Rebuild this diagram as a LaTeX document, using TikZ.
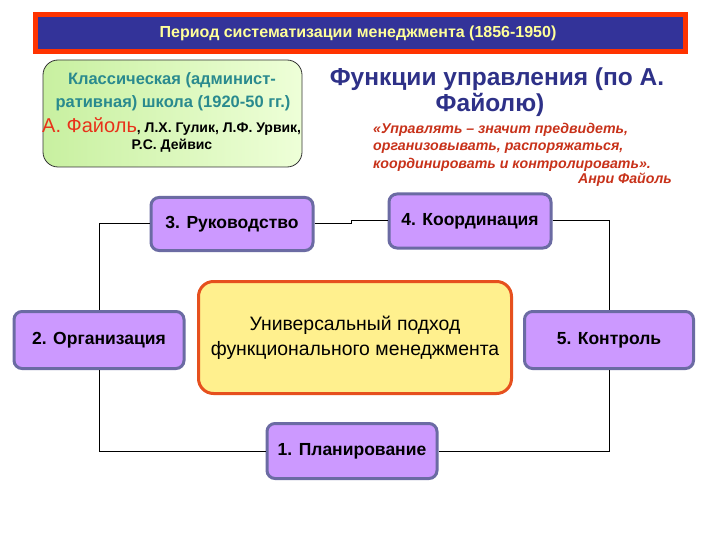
\documentclass[tikz,border=0pt]{standalone}
\usepackage{fontspec}
\setmainfont{Liberation Sans}
\definecolor{nodefill}{HTML}{CC99FF}
\definecolor{nodeborder}{HTML}{6B6BA3}
\definecolor{cfill}{HTML}{FFF08E}
\definecolor{cborder}{HTML}{E6501E}
\definecolor{titlered}{HTML}{FF3300}
\definecolor{titleblue}{HTML}{333399}
\definecolor{titletext}{HTML}{FFFF99}
\definecolor{headblue}{HTML}{2E3188}
\definecolor{teal}{HTML}{2A8A8E}
\definecolor{quotered}{HTML}{C8321A}
\definecolor{fayolred}{HTML}{E8321A}
\definecolor{greenA}{HTML}{C8F0A0}
\definecolor{greenB}{HTML}{EEFFD8}
\tikzset{
  fnbox/.style={draw=nodeborder, line width=3pt, fill=nodefill, rounded corners=8pt,
    font=\bfseries\fontsize{17.5}{20}\selectfont, text=black, inner sep=0pt},
  conn/.style={draw=black, line width=1pt},
  quote/.style={font=\bfseries\itshape\fontsize{14.2}{16}\selectfont, text=quotered, inner sep=0pt},
  school/.style={font=\bfseries\fontsize{16.5}{18}\selectfont, text=teal},
  head/.style={font=\bfseries\fontsize{24.5}{28}\selectfont, text=headblue},
}
\begin{document}
\begin{tikzpicture}[x=1pt,y=-1pt]
\useasboundingbox (0,0) rectangle (720,540);
\fill[white] (0,0) rectangle (720,540);
% title
\fill[titlered] (33,12) rectangle (688,54);
\fill[titleblue] (38,17) rectangle (683,49);
\node[font=\bfseries\fontsize{16}{18}\selectfont, text=titletext] (title) at (358,33) {Период систематизации менеджмента (1856-1950)};
% green box
\node[draw=black!80, line width=0.8pt, rounded corners=15pt, left color=greenA, right color=greenB,
  minimum width=259pt, minimum height=107pt] (school) at (172.5,113.5) {};
\node[school] (s1) at (172,80) {Классическая (админист-};
\node[school] (s2) at (173,103) {ративная) школа (1920-50 гг.)};
\node[inner sep=0pt, anchor=west] (s3) at (42,127) {{\fontsize{20}{22}\selectfont\color{fayolred}А. Файоль}{\bfseries\fontsize{14}{16}\selectfont, Л.Х. Гулик, Л.Ф. Урвик,}};
\node[font=\bfseries\fontsize{14}{16}\selectfont] (s4) at (172,146) {Р.С. Дейвис};
% heading
\node[head] (h1) at (497,79) {Функции управления (по А.};
\node[head] (h2) at (490,105) {Файолю)};
\node[quote, anchor=west] (q1) at (373,130) {«Управлять – значит предвидеть,};
\node[quote, anchor=west] (q2) at (373,148) {организовывать, распоряжаться,};
\node[quote, anchor=west] (q3) at (373,165) {координировать и контролировать».};
\node[quote, anchor=east] (q4) at (672,180) {Анри Файоль};
% function nodes
\node[fnbox, minimum width=162pt, minimum height=53pt] (n3) at (232,224) {3. Руководство};
\node[fnbox, minimum width=162pt, minimum height=54pt] (n4) at (470,221) {4. Координация};
\node[fnbox, minimum width=170pt, minimum height=57pt] (n2) at (99,340) {2. Организация};
\node[fnbox, minimum width=169pt, minimum height=57pt] (n5) at (609,340) {5. Контроль};
\node[fnbox, minimum width=170pt, minimum height=55pt] (n1) at (352,451) {1. Планирование};
% center
\node[draw=cborder, line width=3pt, fill=cfill, rounded corners=15pt,
  minimum width=313pt, minimum height=112pt, align=center,
  font=\fontsize{19.4}{25}\selectfont] (center) at (355,337.5) {Универсальный подход\\функционального менеджмента};
% connectors
\draw[conn] (n1.west) -| (n2.south);
\draw[conn] (n2.north) |- (n3.west);
\draw[conn] (n3.east) -- ++(37,0) |- (n4.west);
\draw[conn] (n4.east) -| (n5.north);
\draw[conn] (n5.south) |- (n1.east);
\end{tikzpicture}
\end{document}
